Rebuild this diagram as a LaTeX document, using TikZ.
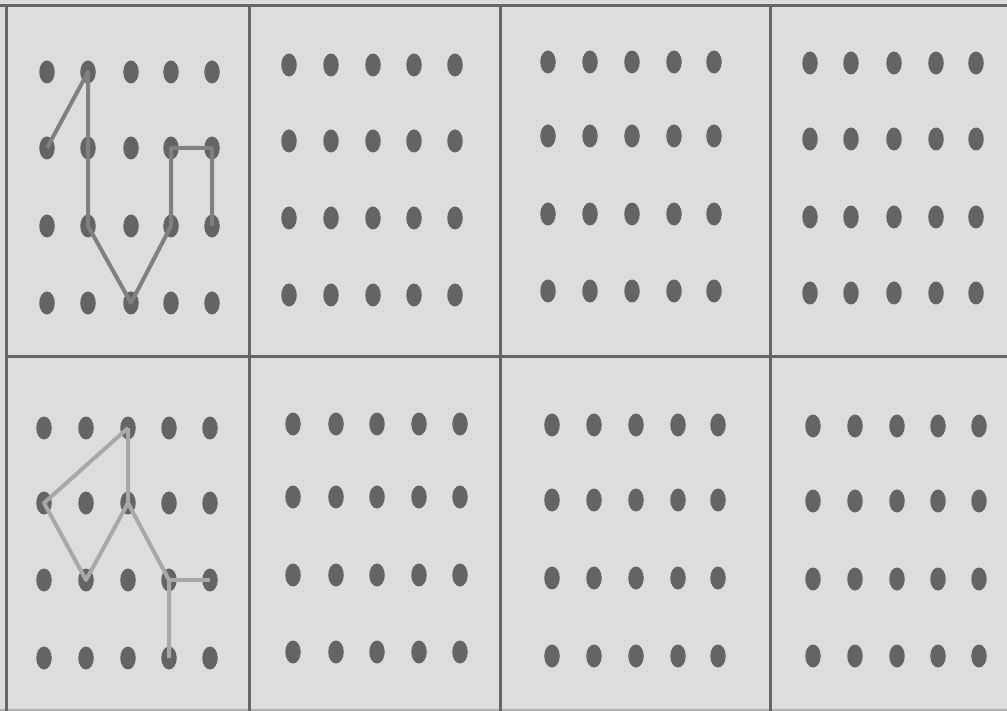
\documentclass[tikz,border=0pt]{standalone}
\usetikzlibrary{shapes.geometric}
\definecolor{bggray}{HTML}{DDDDDD}
\definecolor{framegray}{HTML}{666666}
\definecolor{dotgray}{HTML}{646464}
\definecolor{pathone}{HTML}{808080}
\definecolor{pathtwo}{HTML}{A8A8A8}
\definecolor{bottomgray}{HTML}{B0B0B0}
\newcommand{\dotpanel}[3]{%
  \foreach \xx [count=\cc] in {#2} {%
    \foreach \yy [count=\rr] in {#3} {%
      \node[dotnode] (#1-\rr-\cc) at (\xx,\yy) {};
    }%
  }%
}
\tikzset{
  dotnode/.style={ellipse, fill=dotgray, draw=none, inner sep=0pt, minimum width=15.5pt, minimum height=23pt},
  frameline/.style={draw=framegray, line width=3pt},
  walkone/.style={draw=pathone, line width=4pt, line join=round},
  walktwo/.style={draw=pathtwo, line width=4pt, line join=round}
}
\begin{document}
\begin{tikzpicture}[x=1pt,y=-1pt]
\useasboundingbox (0,0) rectangle (1007,711);
\fill[bggray] (0,0) rectangle (1007,711);
% frame
\draw[frameline] (0,6) -- (1007,6);
\draw[frameline] (6,357) -- (1007,357);
\draw[draw=bottomgray, line width=2pt] (0,710) -- (1007,710);
\draw[frameline] (6,6) -- (6,711);
\draw[frameline] (249,6) -- (249,711);
\draw[frameline] (500,6) -- (500,711);
\draw[frameline] (770,6) -- (770,711);
% dot panels
\dotpanel{a}{47,88,131,171,212}{72,148,226,303}
\dotpanel{b}{289,331,373,414,455}{65,141,218,295}
\dotpanel{c}{548,590,632,674,714}{62,136,214,291}
\dotpanel{d}{810,851,894,936,976}{63,139,217,293}
\dotpanel{e}{44,86,128,169,210}{428,503,580,658}
\dotpanel{f}{293,336,377,419,460}{424,497,575,652}
\dotpanel{g}{552,594,636,678,718}{425,500,578,656}
\dotpanel{h}{813,855,897,938,979}{426,501,579,656}
% path in panel a
\draw[walkone] (a-2-1.center) -- (a-1-2.center) -- (a-3-2.center) -- (a-4-3.center) -- (a-3-4.center) -- (a-2-4.center) -- (a-2-5.center) -- (a-3-5.center);
% path in panel e
\draw[walktwo] (e-1-3.center) -- (e-2-1.center) -- (e-3-2.center) -- (e-2-3.center) -- (e-1-3.center);
\draw[walktwo] (e-2-3.center) -- (e-3-4.center) -- (e-4-4.center);
\draw[walktwo] (e-3-4.center) -- (e-3-5.center);
\end{tikzpicture}
\end{document}
